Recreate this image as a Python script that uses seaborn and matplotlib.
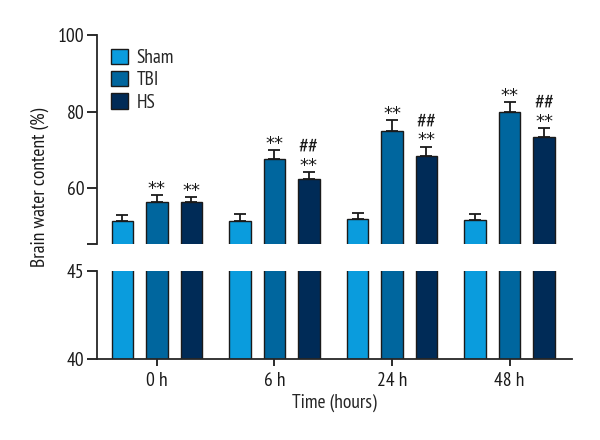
import numpy as np
import pandas as pd
import matplotlib
matplotlib.use("Agg")
import matplotlib.pyplot as plt
import seaborn as sns

# data
times = ["0 h", "6 h", "24 h", "48 h"]
groups = ["Sham", "TBI", "HS"]
sham_mean = [51.3, 51.5, 51.8, 51.7]
sham_err = [1.7, 1.7, 1.7, 1.6]
tbi_mean = [56.3, 67.5, 75.0, 79.8]
tbi_err = [1.9, 2.4, 2.7, 2.7]
hs_mean = [56.4, 62.3, 68.4, 73.3]
hs_err = [1.3, 1.9, 2.4, 2.3]
# significance: ** vs Sham, ## vs TBI
tbi_stars = [True, True, True, True]
hs_stars = [True, True, True, True]
hs_hash = [False, True, True, True]
colors = ["#0A9CDD", "#00669E", "#002B57"]

df = pd.DataFrame({
    "time": times * 3,
    "group": np.repeat(groups, len(times)),
    "value": sham_mean + tbi_mean + hs_mean,
})
errs = [sham_err, tbi_err, hs_err]
stars = [[False] * 4, tbi_stars, hs_stars]
hashes = [[False] * 4, [False] * 4, hs_hash]

sns.set_style("ticks")
plt.rcParams["font.family"] = ["PT Sans Narrow", "DejaVu Sans"]
plt.rcParams["font.size"] = 14

fig = plt.figure(figsize=(6, 4.4), dpi=100)
ax_top = fig.add_axes([0.1617, 0.4455, 0.7913, 0.475])
ax_bot = fig.add_axes([0.1617, 0.184, 0.7913, 0.2])

for ax in (ax_top, ax_bot):
    sns.barplot(data=df, x="time", y="value", hue="group", hue_order=groups,
                palette=colors, saturation=1, width=0.88, edgecolor="#1a1a1a",
                linewidth=1.0, errorbar=None, legend=(ax is ax_top), ax=ax)
    # shrink bars to leave gaps inside each group
    for p in ax.patches:
        w = p.get_width()
        if w > 0:
            cx = p.get_x() + w / 2
            p.set_width(0.18)
            p.set_x(cx - 0.09)
    ax.set_xlim(-0.51, 3.53)
    ax.set_xlabel("")
    ax.set_ylabel("")
    for s in ["top", "right"]:
        ax.spines[s].set_visible(False)
    ax.spines["left"].set_linewidth(1.3)
    ax.spines["bottom"].set_linewidth(1.3)
    ax.tick_params(axis="both", length=7, width=1.3, labelsize=14, colors="#1a1a1a",
                   pad=2)

# error bars and significance marks (top panel only, upper side)
bars = [p for p in ax_top.patches if p.get_width() > 0 and p.get_height() > 0]
for gi, g in enumerate(groups):
    gb = bars[gi * len(times):(gi + 1) * len(times)]
    xs = [p.get_x() + p.get_width() / 2 for p in gb]
    ys = [p.get_height() for p in gb]
    ax_top.errorbar(xs, ys, yerr=[np.zeros(len(ys)), errs[gi]], fmt="none",
                    ecolor="#1a1a1a", elinewidth=1.3, capsize=4.3, capthick=1.3)
    for x, y, e, st, hs in zip(xs, ys, errs[gi], stars[gi], hashes[gi]):
        if st:
            ax_top.annotate("**", (x, y + e), xytext=(0, 1), textcoords="offset points",
                            ha="center", va="baseline", fontsize=13,
                            family="DejaVu Sans", color="#1a1a1a")
        if hs:
            ax_top.annotate("##", (x, y + e), xytext=(0, 14), textcoords="offset points",
                            ha="center", va="baseline", fontsize=16, color="#1a1a1a")

ax_top.set_ylim(45.4, 100)
ax_top.set_yticks([45.4, 60, 80, 100])
ax_top.set_yticklabels(["", "60", "80", "100"])
ax_top.spines["bottom"].set_visible(False)
ax_top.tick_params(axis="x", bottom=False, labelbottom=False)

ax_bot.set_ylim(40, 45)
ax_bot.set_yticks([40, 45])
ax_bot.set_xlabel("Time (hours)", fontsize=14, labelpad=3)
ax_bot.tick_params(axis="x", length=5, pad=4)

leg = ax_top.legend(loc="upper left", bbox_to_anchor=(0.0, 1.0), frameon=False,
                    fontsize=14, handlelength=0.9, handleheight=0.85,
                    handletextpad=0.45, labelspacing=0.2, borderaxespad=0.3)

fig.text(0.067, 0.574, "Brain water content (%)", rotation=90, ha="center",
         va="center", fontsize=14, color="#1a1a1a")

fig.savefig("out.png", dpi=100)
